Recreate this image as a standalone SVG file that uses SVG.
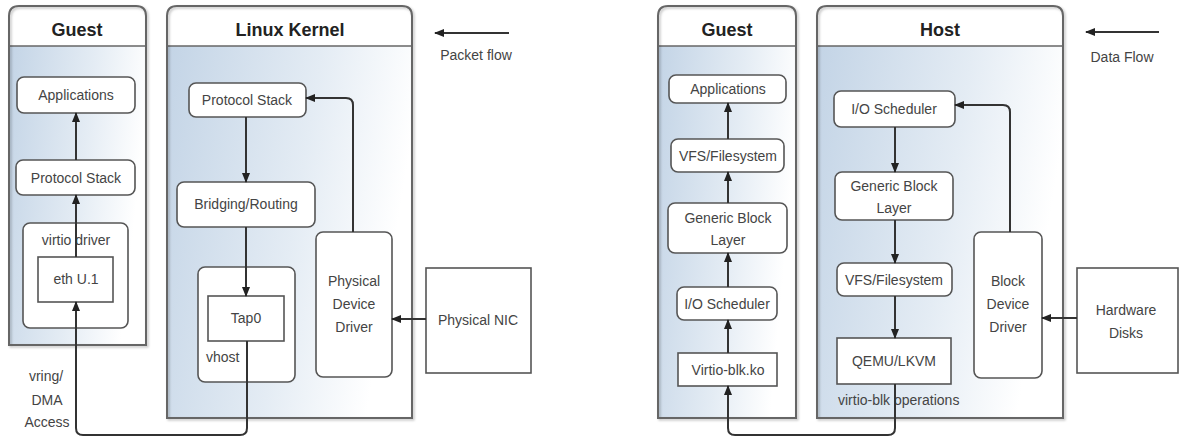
<svg xmlns="http://www.w3.org/2000/svg" width="1179" height="438" viewBox="0 0 1179 438">
<defs>
<linearGradient id="body" x1="0" y1="0" x2="1" y2="0.25">
<stop offset="0" stop-color="#c3d4e6"/>
<stop offset="0.6" stop-color="#e4ecf4"/>
<stop offset="1" stop-color="#ffffff"/>
</linearGradient>
<marker id="ah" viewBox="0 0 10 8" refX="9" refY="4" markerWidth="10" markerHeight="8" markerUnits="userSpaceOnUse" orient="auto">
<path d="M0,0 L10,4 L0,8 Z" fill="#222"/>
</marker>
<filter id="sh" x="-5%" y="-5%" width="110%" height="110%">
<feDropShadow dx="1.5" dy="1.5" stdDeviation="1" flood-color="#000" flood-opacity="0.25"/>
</filter>
</defs>
<style>
.outline{fill:none;stroke:#666;stroke-width:2}
.hdr{fill:#fff}
.hline{stroke:#666;stroke-width:1.5}
.title{font-family:"Liberation Sans",Arial,sans-serif;font-size:18px;font-weight:bold;fill:#222;text-anchor:middle}
.box{fill:#fff;stroke:#555;stroke-width:1.6}
.lbl{font-family:"Liberation Sans",Arial,sans-serif;font-size:14px;fill:#444;text-anchor:middle}
.lbls{font-family:"Liberation Sans",Arial,sans-serif;font-size:14px;fill:#444}
.con{fill:none;stroke:#333;stroke-width:2;marker-end:url(#ah)}
.conn{fill:none;stroke:#333;stroke-width:2}
</style>
<rect width="1179" height="438" fill="#fff"/>

<!-- Left: Guest panel -->
<g id="guest1">
<rect x="9" y="46" width="137" height="299" fill="url(#body)"/>
<path class="hdr" d="M9,46 V16 Q9,6 19,6 H136 Q146,6 146,16 V46 Z"/>
<line class="hline" x1="9" y1="46" x2="146" y2="46"/>
<path class="outline" filter="url(#sh)" d="M9,345 V16 Q9,6 19,6 H136 Q146,6 146,16 V345 Z"/>
<text class="title" x="77" y="36">Guest</text>
</g>
<g id="g1-apps"><rect class="box" x="17" y="77" width="118" height="36" rx="7"/><text class="lbl" x="76" y="100">Applications</text></g>
<g id="g1-ps"><rect class="box" x="16" y="160" width="119" height="35" rx="7"/><text class="lbl" x="76" y="183">Protocol Stack</text></g>
<g id="g1-virtio"><rect class="box" x="23" y="223" width="105" height="105" rx="7"/><text class="lbl" x="76" y="245">virtio driver</text></g>
<g id="g1-eth"><rect class="box" x="38" y="257" width="75" height="45"/><text class="lbl" x="76" y="284">eth U.1</text></g>

<!-- Left: Linux Kernel panel -->
<g id="kernel">
<rect x="167" y="46" width="245" height="372" fill="url(#body)"/>
<path class="hdr" d="M167,46 V16 Q167,6 177,6 H402 Q412,6 412,16 V46 Z"/>
<line class="hline" x1="167" y1="46" x2="412" y2="46"/>
<path class="outline" filter="url(#sh)" d="M167,418 V16 Q167,6 177,6 H402 Q412,6 412,16 V418 Z"/>
<text class="title" x="290" y="36">Linux Kernel</text>
</g>
<g id="k-ps"><rect class="box" x="189" y="83" width="117" height="34" rx="7"/><text class="lbl" x="247" y="105">Protocol Stack</text></g>
<g id="k-br"><rect class="box" x="177" y="182" width="138" height="45" rx="7"/><text class="lbl" x="246" y="209">Bridging/Routing</text></g>
<g id="k-vhost"><rect class="box" x="198" y="267" width="97" height="115" rx="7"/><text class="lbls" x="206" y="362">vhost</text></g>
<g id="k-tap"><rect class="box" x="208" y="296" width="76" height="45"/><text class="lbl" x="246" y="323">Tap0</text></g>
<g id="k-pdd"><rect class="box" x="316" y="232" width="76" height="145" rx="7"/><text class="lbl" x="354" y="286">Physical</text><text class="lbl" x="354" y="309">Device</text><text class="lbl" x="354" y="332">Driver</text></g>
<g id="nic"><rect class="box" x="426" y="268" width="105" height="105"/><text class="lbl" x="478" y="325">Physical NIC</text></g>
<g id="legend1"><text class="lbl" x="476" y="60">Packet flow</text></g>
<g id="vring-label"><text class="lbl" x="46" y="381">vring/</text><text class="lbl" x="47" y="405">DMA</text><text class="lbl" x="47" y="427">Access</text></g>

<!-- Right: Guest panel -->
<g id="guest2">
<rect x="658" y="46" width="138" height="372" fill="url(#body)"/>
<path class="hdr" d="M658,46 V16 Q658,6 668,6 H786 Q796,6 796,16 V46 Z"/>
<line class="hline" x1="658" y1="46" x2="796" y2="46"/>
<path class="outline" filter="url(#sh)" d="M658,418 V16 Q658,6 668,6 H786 Q796,6 796,16 V418 Z"/>
<text class="title" x="727" y="36">Guest</text>
</g>
<g id="g2-apps"><rect class="box" x="669" y="75" width="117" height="28" rx="7"/><text class="lbl" x="728" y="94">Applications</text></g>
<g id="g2-vfs"><rect class="box" x="671" y="139" width="113" height="33" rx="7"/><text class="lbl" x="728" y="161">VFS/Filesystem</text></g>
<g id="g2-gbl"><rect class="box" x="668" y="203" width="119" height="50" rx="7"/><text class="lbl" x="728" y="223">Generic Block</text><text class="lbl" x="728" y="245">Layer</text></g>
<g id="g2-io"><rect class="box" x="677" y="287" width="100" height="33" rx="7"/><text class="lbl" x="727" y="309">I/O Scheduler</text></g>
<g id="g2-vblk"><rect class="box" x="678" y="353" width="99" height="33"/><text class="lbl" x="728" y="375">Virtio-blk.ko</text></g>

<!-- Right: Host panel -->
<g id="host">
<rect x="817" y="46" width="246" height="372" fill="url(#body)"/>
<path class="hdr" d="M817,46 V16 Q817,6 827,6 H1053 Q1063,6 1063,16 V46 Z"/>
<line class="hline" x1="817" y1="46" x2="1063" y2="46"/>
<path class="outline" filter="url(#sh)" d="M817,418 V16 Q817,6 827,6 H1053 Q1063,6 1063,16 V418 Z"/>
<text class="title" x="940" y="36">Host</text>
</g>
<g id="h-io"><rect class="box" x="834" y="91" width="121" height="36" rx="7"/><text class="lbl" x="894" y="114">I/O Scheduler</text></g>
<g id="h-gbl"><rect class="box" x="835" y="172" width="118" height="48" rx="7"/><text class="lbl" x="894" y="191">Generic Block</text><text class="lbl" x="894" y="213">Layer</text></g>
<g id="h-vfs"><rect class="box" x="837" y="263" width="115" height="33" rx="7"/><text class="lbl" x="894" y="285">VFS/Filesystem</text></g>
<g id="h-qemu"><rect class="box" x="837" y="338" width="114" height="46"/><text class="lbl" x="894" y="366">QEMU/LKVM</text><text class="lbls" x="838" y="405">virtio-blk operations</text></g>
<g id="h-bdd"><rect class="box" x="974" y="232" width="68" height="146" rx="7"/><text class="lbl" x="1008" y="286">Block</text><text class="lbl" x="1008" y="309">Device</text><text class="lbl" x="1008" y="332">Driver</text></g>
<g id="disks"><rect class="box" x="1077" y="268" width="101" height="105"/><text class="lbl" x="1126" y="315">Hardware</text><text class="lbl" x="1126" y="338">Disks</text></g>
<g id="legend2"><text class="lbl" x="1122" y="62">Data Flow</text></g>

<!-- Connectors -->
<g id="connectors">
<path class="con" d="M76,160 V113"/>
<path class="con" d="M76,257 V195"/>
<path class="con" d="M247,341 V428 Q247,435 240,435 H83 Q76,435 76,428 V302"/>
<path class="con" d="M246,117 V182"/>
<path class="con" d="M246,227 V296"/>
<path class="con" d="M353,232 V105 Q353,98 346,98 H306"/>
<path class="con" d="M426,319 H392"/>
<path class="con" d="M509,33 H435"/>

<path class="con" d="M728,353 V320"/>
<path class="con" d="M728,287 V253"/>
<path class="con" d="M728,203 V172"/>
<path class="con" d="M728,139 V103"/>
<path class="con" d="M895,384 V428 Q895,435 888,435 H735 Q728,435 728,428 V386"/>
<path class="con" d="M895,127 V172"/>
<path class="con" d="M895,220 V263"/>
<path class="con" d="M895,296 V338"/>
<path class="con" d="M1010,232 V112 Q1010,105 1003,105 H955"/>
<path class="con" d="M1077,318 H1042"/>
<path class="con" d="M1159,32 H1086"/>
</g>
</svg>
